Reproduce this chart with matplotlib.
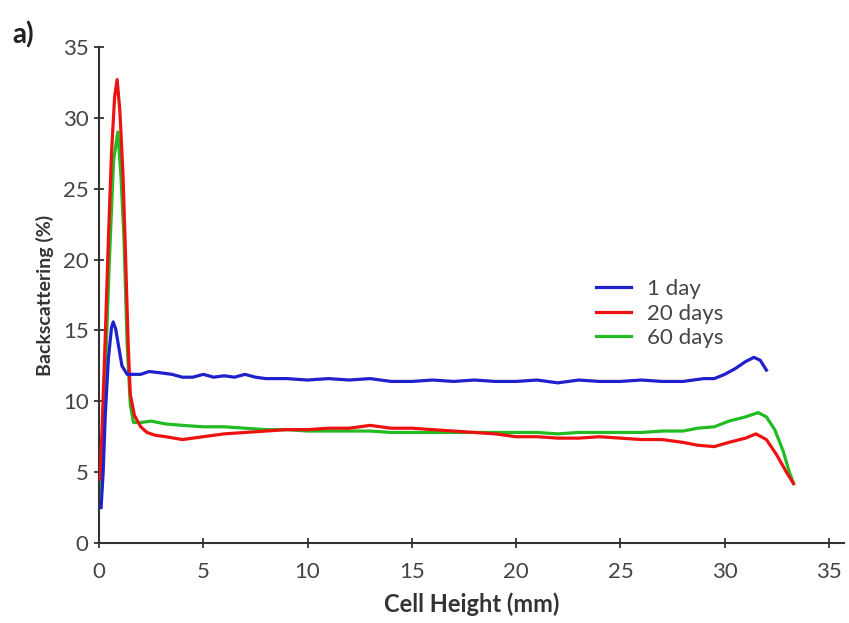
import matplotlib.pyplot as plt

plt.rcParams['font.family'] = ['Lato', 'DejaVu Sans']

# 1 day
x_1day = [0.1, 0.2, 0.3, 0.45, 0.6, 0.68, 0.8, 0.95, 1.1, 1.35, 1.6, 2.0, 2.4, 3.0, 3.5,
          4.0, 4.5, 5.0, 5.5, 6.0, 6.5, 7.0, 7.5, 8.0, 9.0, 10.0, 11.0, 12.0, 13.0,
          14.0, 15.0, 16.0, 17.0, 18.0, 19.0, 20.0, 21.0, 22.0, 23.0, 24.0, 25.0,
          26.0, 27.0, 28.0, 28.5, 29.0, 29.5, 30.0, 30.5, 31.0, 31.4, 31.7, 32.0]
y_1day = [2.5, 5.0, 9.0, 13.0, 15.2, 15.6, 15.1, 13.8, 12.5, 11.9, 11.9, 11.9, 12.1, 12.0, 11.9,
          11.7, 11.7, 11.9, 11.7, 11.8, 11.7, 11.9, 11.7, 11.6, 11.6, 11.5, 11.6, 11.5, 11.6,
          11.4, 11.4, 11.5, 11.4, 11.5, 11.4, 11.4, 11.5, 11.3, 11.5, 11.4, 11.4,
          11.5, 11.4, 11.4, 11.5, 11.6, 11.6, 11.9, 12.3, 12.8, 13.1, 12.9, 12.2]

# 20 days
x_20days = [0.05, 0.15, 0.3, 0.45, 0.6, 0.75, 0.87, 1.0, 1.15, 1.25, 1.4, 1.5, 1.7, 2.0, 2.3,
            2.7, 3.2, 4.0, 4.5, 5.0, 6.0, 7.0, 8.0, 9.0, 10.0, 11.0, 12.0, 13.0, 14.0, 15.0,
            16.0, 17.0, 18.0, 19.0, 20.0, 21.0, 22.0, 23.0, 24.0, 25.0, 26.0, 27.0,
            28.0, 28.7, 29.5, 30.2, 31.0, 31.5, 32.0, 32.5, 33.0, 33.3]
y_20days = [4.5, 8.2, 14.5, 21.4, 27.5, 31.5, 32.7, 30.5, 26.0, 21.4, 14.0, 10.5, 9.0, 8.2, 7.8,
            7.6, 7.5, 7.3, 7.4, 7.5, 7.7, 7.8, 7.9, 8.0, 8.0, 8.1, 8.1, 8.3, 8.1, 8.1,
            8.0, 7.9, 7.8, 7.7, 7.5, 7.5, 7.4, 7.4, 7.5, 7.4, 7.3, 7.3,
            7.1, 6.9, 6.8, 7.1, 7.4, 7.7, 7.3, 6.2, 4.9, 4.2]

# 60 days
x_60days = [0.05, 0.3, 0.5, 0.7, 0.9, 1.05, 1.2, 1.35, 1.5, 1.65, 2.0, 2.5, 3.2,
            4.0, 5.0, 6.0, 7.0, 8.0, 9.0, 10.0, 11.0, 12.0, 13.0, 14.0, 15.0, 16.0,
            17.0, 18.0, 19.0, 20.0, 21.0, 22.0, 23.0, 24.0, 25.0, 26.0, 27.0, 28.0,
            28.7, 29.5, 30.2, 31.0, 31.6, 32.0, 32.4, 32.8, 33.1, 33.3]
y_60days = [3.5, 12.0, 20.0, 27.0, 29.0, 26.0, 21.4, 14.0, 9.8, 8.5, 8.5, 8.6, 8.4,
            8.3, 8.2, 8.2, 8.1, 8.0, 8.0, 7.9, 7.9, 7.9, 7.9, 7.8, 7.8, 7.8,
            7.8, 7.8, 7.8, 7.8, 7.8, 7.7, 7.8, 7.8, 7.8, 7.8, 7.9, 7.9,
            8.1, 8.2, 8.6, 8.9, 9.2, 8.9, 8.0, 6.5, 5.0, 4.2]

xticks = [0, 5, 10, 15, 20, 25, 30, 35]
yticks = [0, 5, 10, 15, 20, 25, 30, 35]

fig = plt.figure(figsize=(8.49, 6.23), dpi=100)
ax = fig.add_axes([0.1166, 0.1284, 0.877, 0.7962])

ax.plot(x_60days, y_60days, color='#22bb22', lw=2.3, label='60 days', zorder=2)
ax.plot(x_20days, y_20days, color='#ee1111', lw=2.3, label='20 days', zorder=3)
ax.plot(x_1day, y_1day, color='#2020cc', lw=2.3, label='1 day', zorder=4)

ax.set_xlim(0, 35.7)
ax.set_ylim(0, 35)
ax.set_xticks(xticks)
ax.set_yticks(yticks)
ax.spines['top'].set_visible(False)
ax.spines['right'].set_visible(False)
for s in ['left', 'bottom']:
    ax.spines[s].set_linewidth(1.5)
    ax.spines[s].set_color('#333333')
ax.tick_params(direction='inout', length=7, width=1.3, color='#333333',
               labelsize=16, labelcolor='#444444', pad=4)
ax.tick_params(axis='x', pad=10)

ax.set_xlabel('Cell Height (mm)', fontsize=17, fontweight='bold', color='#333333', labelpad=8)
ax.set_ylabel('Backscattering (%)', fontsize=14, fontweight='bold', color='#333333', labelpad=6)

handles, labels = ax.get_legend_handles_labels()
leg = ax.legend(handles[::-1], labels[::-1], loc='upper left', bbox_to_anchor=(0.655, 0.55),
                frameon=False, fontsize=16, handlelength=1.6, handletextpad=0.7,
                labelspacing=0.2, borderaxespad=0)
for t in leg.get_texts():
    t.set_color('#444444')

fig.text(0.014, 0.93, 'a)', fontsize=20, fontweight='bold', color='#222222')

fig.savefig('out.png', dpi=100)
